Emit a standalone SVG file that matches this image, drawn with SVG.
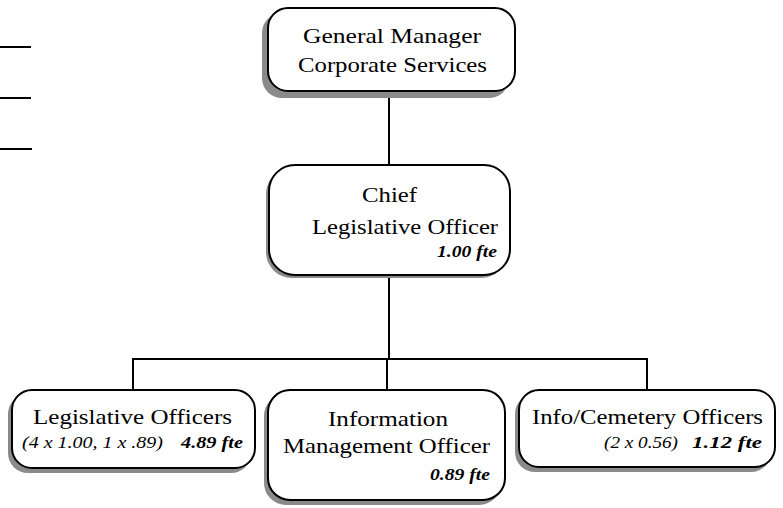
<svg xmlns="http://www.w3.org/2000/svg" width="783" height="508" viewBox="0 0 783 508">
<style>
.box{fill:#fff;stroke:#000;stroke-width:2}
.shadow{fill:#8a8a8a;stroke:none}
.t{font-family:"Liberation Serif","Times New Roman",serif;font-size:21px;fill:#000}
.i{font-family:"Liberation Serif","Times New Roman",serif;font-size:16px;font-style:italic;fill:#000}
.b{font-family:"Liberation Serif","Times New Roman",serif;font-size:16px;font-style:italic;font-weight:bold;fill:#000}
.c{stroke:#000;stroke-width:2;fill:none}
</style>
<g id="left-lines" class="c">
<line x1="0" y1="47" x2="31" y2="47"/>
<line x1="0" y1="98" x2="31" y2="98"/>
<line x1="0" y1="149" x2="32" y2="149"/>
</g>
<g id="connectors" class="c">
<line x1="389" y1="91" x2="389" y2="165"/>
<line x1="389" y1="275" x2="389" y2="359"/>
<polyline points="133,390 133,359 647,359 647,390"/>
<line x1="387" y1="359" x2="387" y2="390"/>
</g>
<g id="general-manager">
<rect class="shadow" x="262" y="13" width="247" height="85" rx="20"/>
<rect class="box" x="268" y="8" width="247" height="83" rx="20" stroke-width="3.5"/>
<text class="t" x="303" y="43" textLength="178" lengthAdjust="spacingAndGlyphs">General Manager</text>
<text class="t" x="298" y="72" textLength="189" lengthAdjust="spacingAndGlyphs">Corporate Services</text>
</g>
<g id="chief">
<rect class="shadow" x="266" y="168" width="241" height="110" rx="26"/>
<rect class="box" x="269" y="165" width="241" height="110" rx="26"/>
<text class="t" x="362" y="202" textLength="55" lengthAdjust="spacingAndGlyphs">Chief</text>
<text class="t" x="312" y="234" textLength="186" lengthAdjust="spacingAndGlyphs">Legislative Officer</text>
<text class="b" x="437" y="257" textLength="60" lengthAdjust="spacingAndGlyphs">1.00 fte</text>
</g>
<g id="legislative-officers">
<rect class="shadow" x="8" y="394" width="243" height="79" rx="20"/>
<rect class="box" x="12" y="390" width="243" height="78" rx="20"/>
<text class="t" x="33" y="424" textLength="199" lengthAdjust="spacingAndGlyphs">Legislative Officers</text>
<text class="i" x="22" y="448" textLength="141" lengthAdjust="spacingAndGlyphs">(4 x 1.00, 1 x .89)</text>
<text class="b" x="181" y="448" textLength="62" lengthAdjust="spacingAndGlyphs">4.89 fte</text>
</g>
<g id="information-management">
<rect class="shadow" x="264" y="394" width="237" height="111" rx="22"/>
<rect class="box" x="268" y="390" width="237" height="110" rx="22"/>
<text class="t" x="328" y="426" textLength="120" lengthAdjust="spacingAndGlyphs">Information</text>
<text class="t" x="283" y="453" textLength="207" lengthAdjust="spacingAndGlyphs">Management Officer</text>
<text class="b" x="430" y="480" textLength="60" lengthAdjust="spacingAndGlyphs">0.89 fte</text>
</g>
<g id="info-cemetery">
<rect class="shadow" x="515" y="394" width="256" height="78" rx="20"/>
<rect class="box" x="519" y="390" width="256" height="77" rx="20"/>
<text class="t" x="532" y="424" textLength="231" lengthAdjust="spacingAndGlyphs">Info/Cemetery Officers</text>
<text class="i" x="604" y="448" textLength="74" lengthAdjust="spacingAndGlyphs">(2 x 0.56)</text>
<text class="b" x="692" y="448" textLength="70" lengthAdjust="spacingAndGlyphs">1.12 fte</text>
</g>
</svg>
